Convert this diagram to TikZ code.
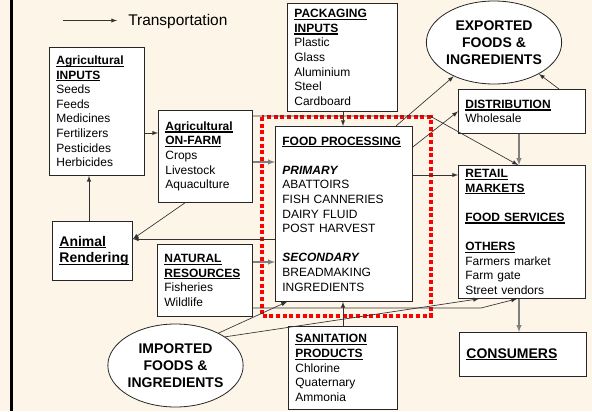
\documentclass[tikz,border=0pt]{standalone}
\usepackage{fontspec}
\setmainfont{Liberation Sans}
\usetikzlibrary{arrows}
\usetikzlibrary{shapes.geometric}
\usepackage{xcolor}
\definecolor{bgcol}{RGB}{253,245,231}

\newsavebox\ulbox
\newcommand{\ulb}[1]{\leavevmode\sbox\ulbox{\bfseries #1}\rlap{\rule[-1.7pt]{\wd\ulbox}{0.9pt}}\usebox\ulbox}

\tikzset{
 box/.style={draw=black!85, fill=white, line width=.6pt, anchor=north west, align=left, inner xsep=5.25pt, inner ysep=0pt, font=\fontsize{9}{10.95}\selectfont},
 blob/.style={ellipse, draw=black!85, fill=white, line width=.6pt, inner sep=0pt, minimum width=95.25pt, minimum height=62.25pt, align=center, font=\bfseries\fontsize{10.5}{12.75}\selectfont},
 tr/.style={draw=black!80, line width=.5pt, ->, >=latex},
 trg/.style={draw=black!50, line width=.8pt, ->, >=latex}
}

\begin{document}
\begin{tikzpicture}[x=0.75pt,y=-0.75pt]
\useasboundingbox (0,0) rectangle (592,411);
\fill[bgcol] (0,0) rectangle (592,411);
\draw[black, line width=1.9pt] (11.3,0)--(11.3,411);

% legend
\coordinate (lga) at (63,20.5);
\coordinate (lgb) at (117,20.5);
\draw[tr] (lga)--(lgb);
\node[right, inner sep=0pt, font=\fontsize{11.6}{13}\selectfont] (lgt) at (128,21) {Transportation};

% processing frame
\draw[red, line width=3pt, dash pattern=on 3pt off 2pt] (261.5,117) rectangle (430.5,316);

% boxes
\node[box, text width=60.75pt, minimum height=96pt] (ain) at (49,47) {\ulb{Agricultural}\\ \ulb{INPUTS}\\ Seeds\\ Feeds\\ Medicines\\ Fertilizers\\ Pesticides\\ Herbicides};
\node[box, text width=60pt, minimum height=69pt] (onf) at (158,110) {\ulb{Agricultural}\\ \ulb{ON-FARM}\\ Crops\\ Livestock\\ Aquaculture};
\node[box, text width=72pt, minimum height=81pt] (pkg) at (287,3) {\ulb{PACKAGING}\\ \ulb{INPUTS}\\ Plastic\\ Glass\\ Aluminium\\ Steel\\ Cardboard};
\node[blob] (exp) at (494,42.5) {EXPORTED\\ FOODS \&\\ INGREDIENTS};
\node[box, text width=84.75pt, minimum height=33pt] (dis) at (458,89) {\ulb{DISTRIBUTION}\\ Wholesale};
\node[box, text width=84.75pt, minimum height=99.75pt] (ret) at (458,165) {\ulb{RETAIL}\\ \ulb{MARKETS}\\[10.95pt] \ulb{FOOD SERVICES}\\[10.95pt] \ulb{OTHERS}\\ Farmers market\\ Farm gate\\ Street vendors};
\node[box, text width=84.75pt, minimum height=33pt, font=\fontsize{10.5}{12.75}\selectfont] (con) at (459,332) {\ulb{CONSUMERS}};
\node[box, text width=92.25pt, minimum height=131.25pt] (fpr) at (275,126) {\ulb{FOOD PROCESSING}\\[10.95pt] \textbf{\textit{PRIMARY}}\\ ABATTOIRS\\ FISH CANNERIES\\ DAIRY FLUID\\ POST HARVEST\\[10.95pt] \textbf{\textit{SECONDARY}}\\ BREADMAKING\\ INGREDIENTS};
\node[box, text width=60.75pt, minimum height=54pt] (nat) at (157,244) {\ulb{NATURAL}\\ \ulb{RESOURCES}\\ Fisheries\\ Wildlife};
\node[box, text width=49.5pt, minimum height=44.25pt, font=\fontsize{10.5}{12.5}\selectfont] (ren) at (52,221) {\ulb{Animal}\\ \ulb{Rendering}};
\node[box, text width=71.25pt, minimum height=62.25pt] (san) at (288,326) {\ulb{SANITATION}\\ \ulb{PRODUCTS}\\ Chlorine\\ Quaternary\\ Ammonia};
\node[blob] (imp) at (175.5,365.5) {IMPORTED\\ FOODS \&\\ INGREDIENTS};

% transport links
\draw[tr] (ain.east |- 0,133) -- (onf.west |- 0,133);
\draw[tr] (ren.north -| 89,0) -- (ain.south -| 89,0);
\draw[trg] (onf.east |- 0,162) -- (fpr.west |- 0,162);
\draw[tr] (onf.south -| 185,0) -- (ren.east |- 0,239);
\draw[tr] (fpr.west |- 0,239) -- (ren.east |- 0,239);
\draw[trg] (nat.east |- 0,262) -- (fpr.west |- 0,262);
\draw[tr] (pkg.south -| 343,0) -- (fpr.north -| 343,0);
\draw[tr] (san.north -| 343,0) -- (fpr.south -| 343,0);
\draw[tr] (nat.east |- 0,308) -- (481,308) -- (ret.south -| 517,0);
\draw[tr] (imp.37) -- (fpr.south -| 287,0);
\draw[tr] (imp.30) -- (ret.south -| 479,0);
\draw[trg] (ret.south -| 519,0) -- (con.north -| 519,0);
\draw[trg] (dis.south -| 519,0) -- (ret.north -| 519,0);
\draw[tr] (fpr.east |- 0,175) -- (ret.west |- 0,175);
\draw[tr] (fpr.east |- 0,147) -- (dis.west);
\draw[tr] (fpr.north -| 396,0) -- (exp.220);
\draw[tr] (dis.north -| 559,0) -- (exp.325);
\draw[tr] (onf.east |- 0,116) -- (430,116) -- (ret.north -| 518,0);
\end{tikzpicture}
\end{document}
